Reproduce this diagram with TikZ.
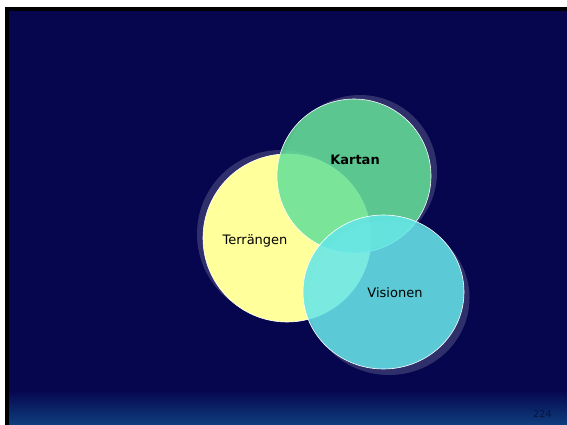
\documentclass[tikz,border=0pt]{standalone}
\usepackage{fontspec}
\setmainfont{DejaVu Sans}
\definecolor{navy}{RGB}{6,6,78}
\definecolor{navylow}{RGB}{14,62,126}
\definecolor{sunyellow}{RGB}{255,255,155}
\definecolor{leafgreen}{RGB}{99,225,150}
\definecolor{seacyan}{RGB}{99,230,233}
\definecolor{pagenum}{RGB}{8,20,60}
\tikzset{
  disc/.style={draw=white, line width=0.6pt},
  discshadow/.style={fill=white, fill opacity=0.17},
  label/.style={font=\fontsize{13}{15}\selectfont, text=black}
}
\begin{document}
\begin{tikzpicture}[x=1pt,y=-1pt]
\useasboundingbox (0,0) rectangle (567,425);
% page and frame
\fill[white] (0,0) rectangle (567,425);
\fill[black] (5,7) rectangle (567,425);
\fill[navy] (9,11) rectangle (567,425);
\shade[top color=navy, bottom color=navylow] (9,390) rectangle (567,425);
% yellow disc
\fill[discshadow] (281,234) circle (84);
\fill[disc, fill=sunyellow] (287,238) circle (84);
% green disc
\fill[discshadow] (360,172) circle (77);
\filldraw[disc, fill=leafgreen, fill opacity=0.85] (354,176) circle (77);
% cyan disc
\fill[discshadow] (389,298) ellipse [x radius=80.5, y radius=77];
\filldraw[disc, fill=seacyan, fill opacity=0.85] (383.5,292) ellipse [x radius=80.5, y radius=77];
% labels
\node[label] (terr) at (255,241) {Terrängen};
\node[label, font=\bfseries\fontsize{13}{15}\selectfont] (kart) at (355,160) {Kartan};
\node[label] (vis) at (395,293) {Visionen};
\node[font=\fontsize{9.5}{10}\selectfont, text=pagenum] (page) at (542.5,414) {224};
\end{tikzpicture}
\end{document}
